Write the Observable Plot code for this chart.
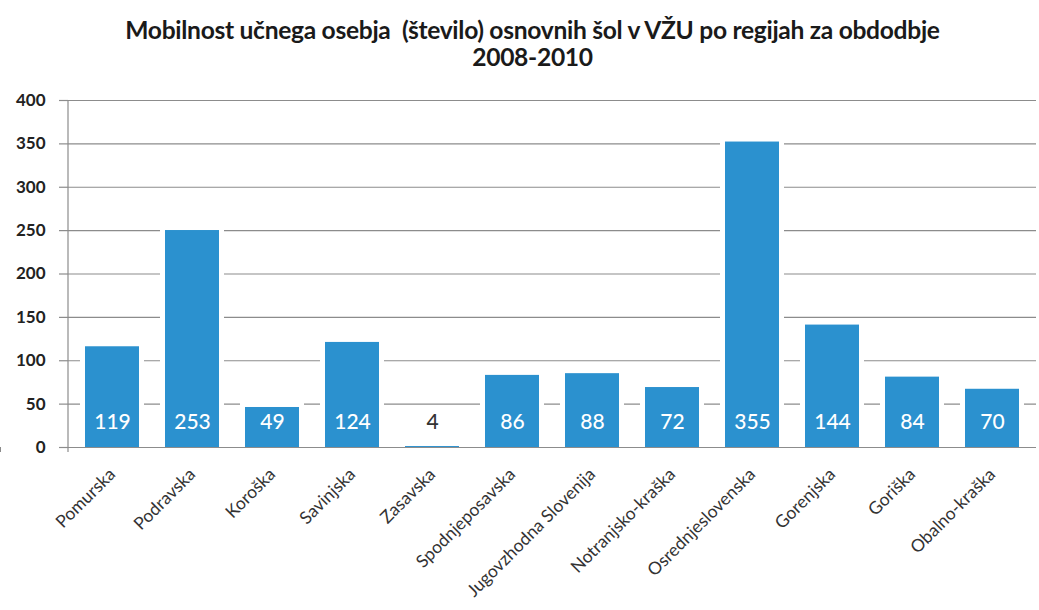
<!DOCTYPE html>
<html>
<head>
<meta charset="utf-8">
<script src="https://cdn.jsdelivr.net/npm/d3@7"></script>
<script src="https://cdn.jsdelivr.net/npm/@observablehq/plot@0.6"></script>
<style>
  body { margin: 0; background: #fff; font-family: Lato, "Open Sans", sans-serif; overflow: hidden; }
  #title { width: 1039px; height: 80px; text-align: center; font-weight: bold; font-size: 24.6px; line-height: 27px; color: #1a1a1a; padding-top: 16px; padding-left: 26px; box-sizing: border-box; letter-spacing: -0.3px; }
</style>
</head>
<body>
<div id="title">Mobilnost učnega osebja&nbsp; (število) osnovnih šol v VŽU po regijah za obdodbje<br>2008-2010</div>
<div id="chart"></div>
<script>
const regions = ["Pomurska","Podravska","Koroška","Savinjska","Zasavska","Spodnjeposavska","Jugovzhodna Slovenija","Notranjsko-kraška","Osrednjeslovenska","Gorenjska","Goriška","Obalno-kraška"];
const values = [119, 253, 49, 124, 4, 86, 88, 72, 355, 144, 84, 70];
const yTicks = [0, 50, 100, 150, 200, 250, 300, 350, 400];

const data = regions.map((r, i) => ({region: r, value: values[i]}));

const paddingInner = 0.33;

// y axis line and x tick marks at category boundaries, derived from the scales
const axisLines = (index, scales, values, dimensions) => {
  const x = scales.x, y = scales.y;
  const bw = x.bandwidth;
  const step = bw / (1 - paddingInner);
  const g = d3.create("svg:g").attr("stroke", "#8c8c8c").attr("stroke-width", 1.2);
  const y0 = y(0);
  g.append("line")
    .attr("x1", dimensions.marginLeft).attr("x2", dimensions.marginLeft)
    .attr("y1", y(400)).attr("y2", y0 + 5);
  const pos = regions.map(r => x(r) - (step - bw) / 2);
  pos.push(x(regions[regions.length - 1]) + bw + (step - bw) / 2);
  for (const p of pos) {
    g.append("line").attr("x1", p).attr("x2", p).attr("y1", y0).attr("y2", y0 + 5);
  }
  return g.node();
};

const chart = Plot.plot({
  width: 1039,
  height: 530,
  marginTop: 20,
  marginLeft: 68,
  marginRight: 3,
  marginBottom: 163,
  style: {fontFamily: "Lato, 'Open Sans', sans-serif", fontSize: "16px", color: "#8c8c8c", background: "#fff"},
  x: {domain: regions, paddingInner: paddingInner, paddingOuter: paddingInner / 2, label: null},
  y: {domain: [0, 400], label: null},
  marks: [
    Plot.gridY(yTicks, {stroke: "#8c8c8c", strokeOpacity: 1, strokeWidth: 1.2}),
    Plot.axisY({ticks: yTicks, tickSize: 9, tickPadding: 14, stroke: "#8c8c8c", strokeWidth: 1.2, fontSize: 17, fill: "#222", fontWeight: "bold", label: null}),
    Plot.axisX({tickSize: 0, tickRotate: -45, tickPadding: 24, dx: 0, fontSize: 17.5, fill: "#333", label: null}),
    Plot.barY(data.filter(d => d.value > 10), {x: "region", y: "value", fill: "#fff", insetLeft: -5, insetRight: -5, insetTop: -2}),
    Plot.barY(data, {x: "region", y: "value", fill: "#2b91cf", insetTop: 2.5}),
    Plot.ruleY([0], {stroke: "#8c8c8c", strokeWidth: 1.2}),
    axisLines,
    Plot.text(data, {x: "region", y: 0, dy: -25, text: d => String(d.value), fill: d => d.value > 10 ? "#ffffff" : "#333", fontSize: 21, fontWeight: "500"})
  ]
});
document.getElementById("chart").appendChild(chart);
</script>
</body>
</html>
